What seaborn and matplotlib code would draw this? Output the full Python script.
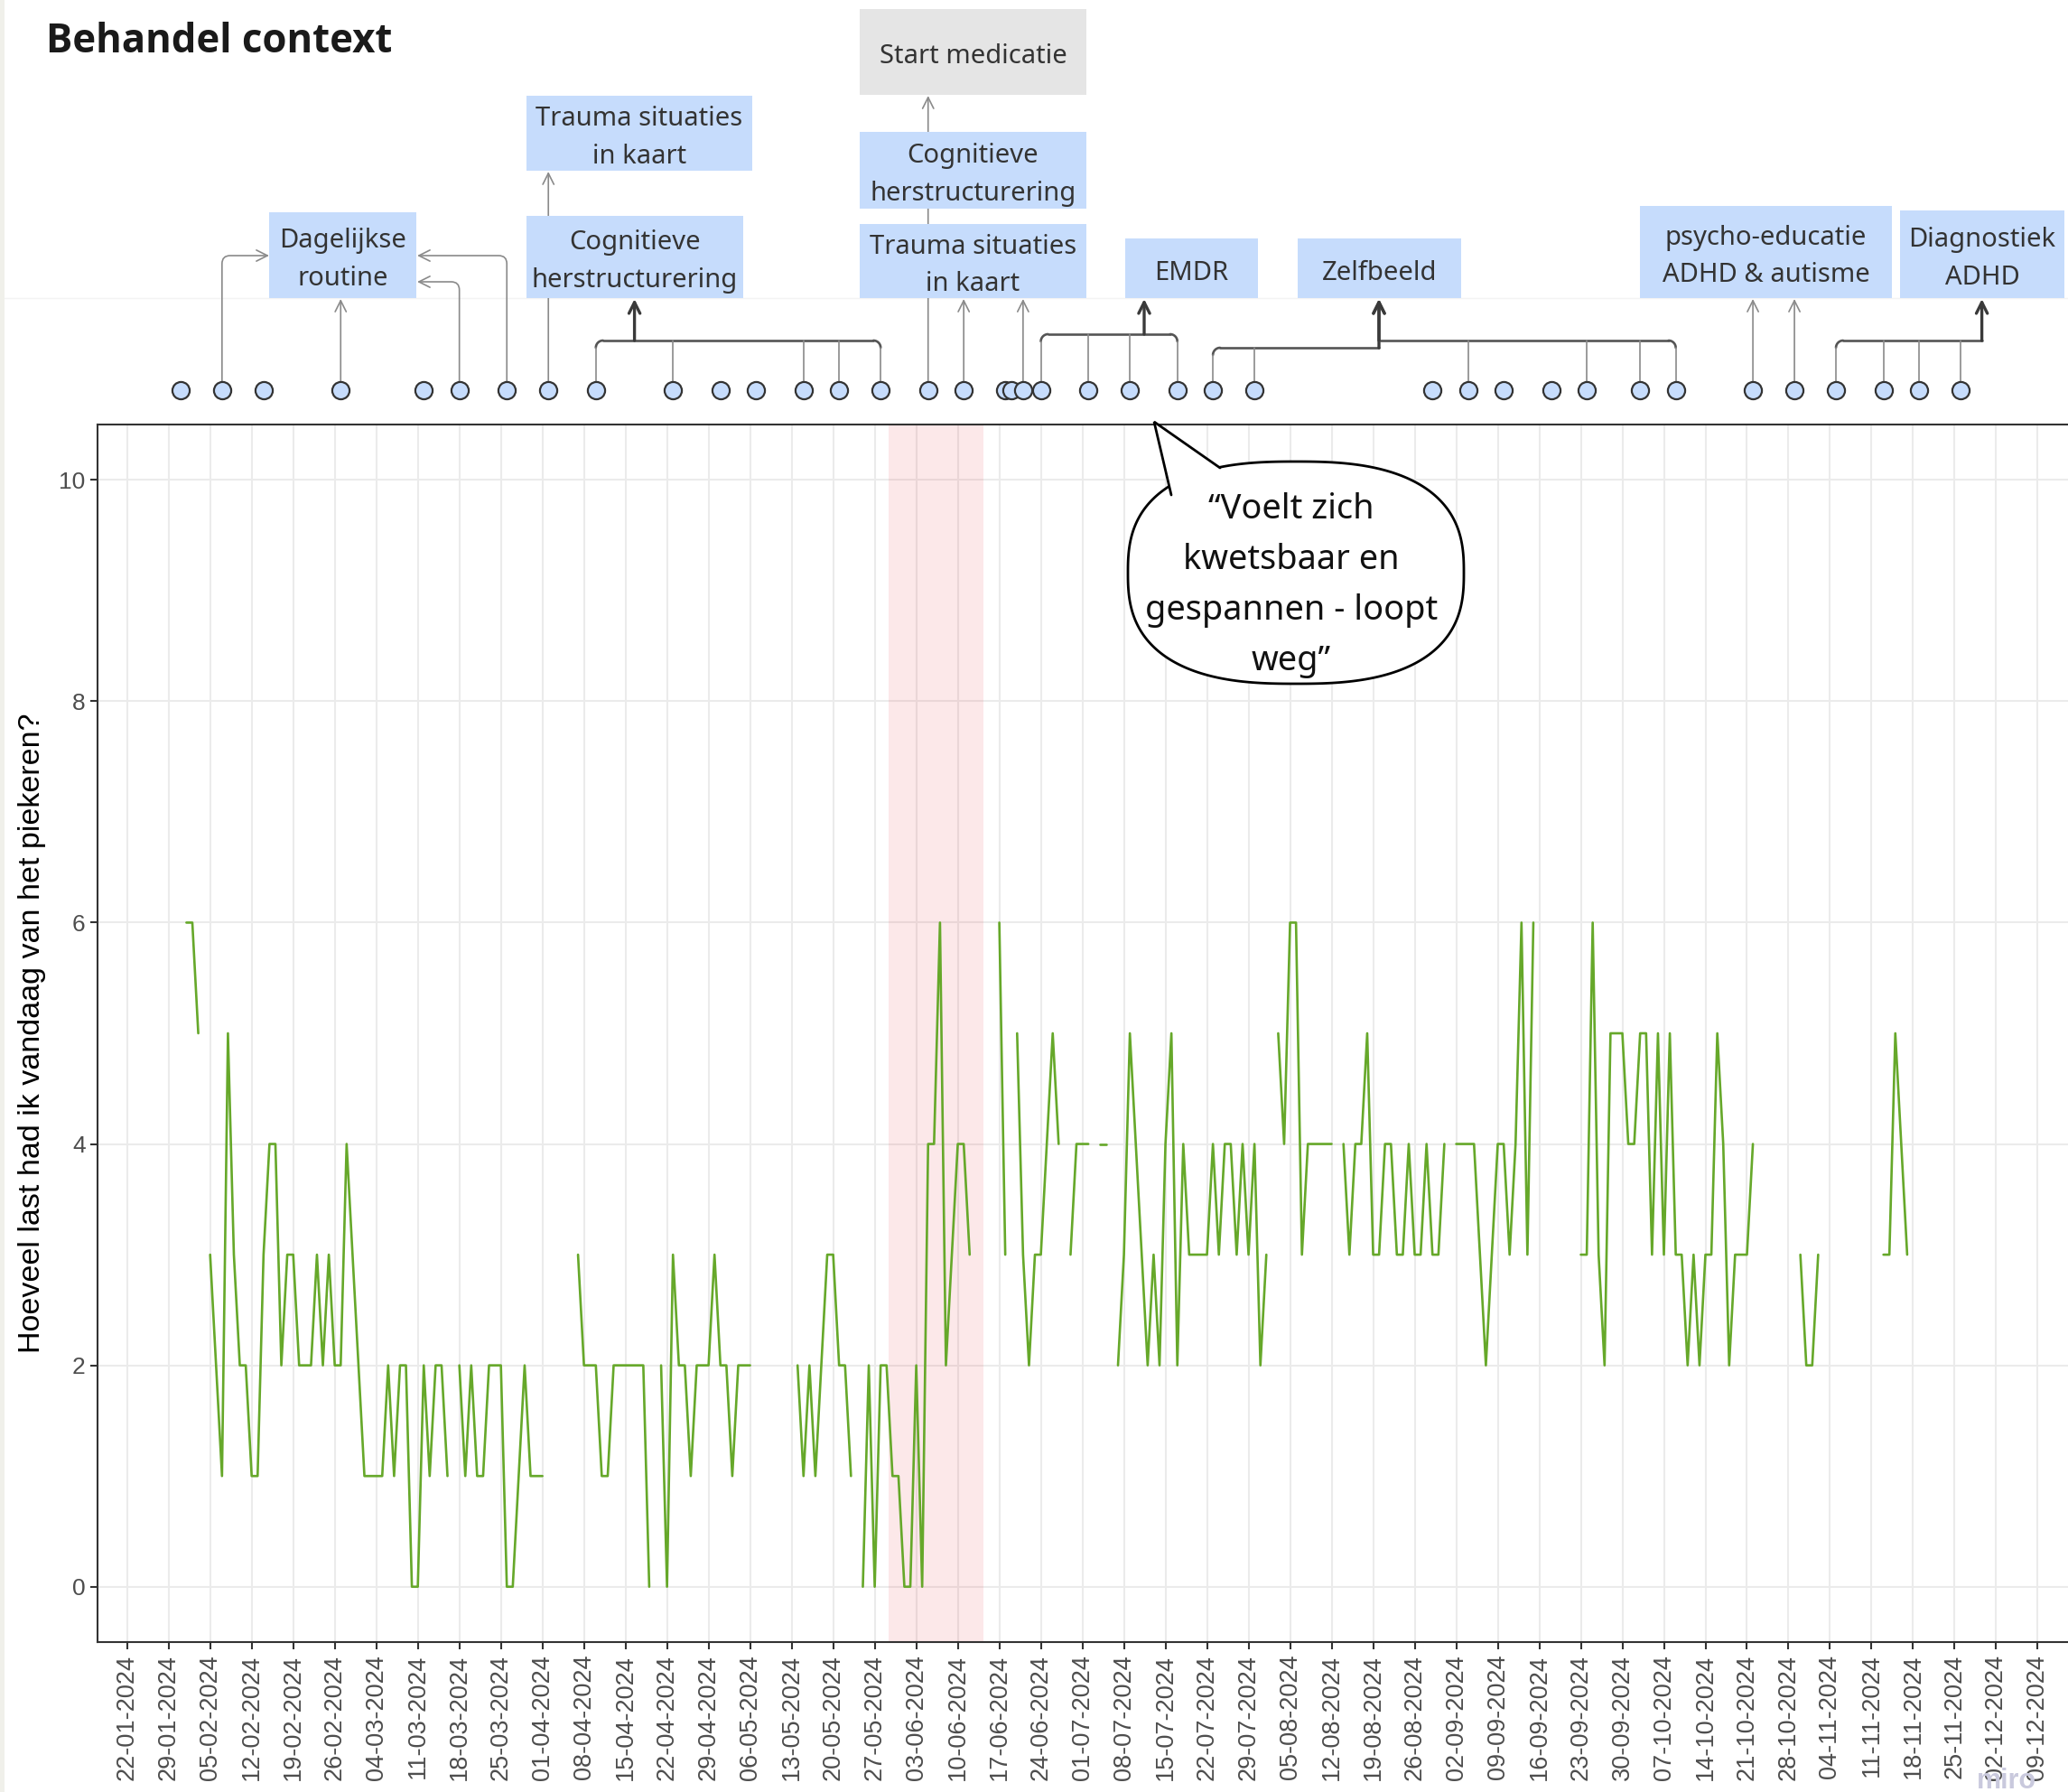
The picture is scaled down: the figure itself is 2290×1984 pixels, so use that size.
import numpy as np
import pandas as pd
import matplotlib
matplotlib.use("Agg")
import matplotlib.pyplot as plt
import matplotlib.dates as mdates
from matplotlib.patches import Rectangle, Polygon
import seaborn as sns

NA = None

# daily answers, starting on 01-02-2024 (NA = no answer that day)
first_day = "2024-02-01"
scores = [
    # februari
    6, 6, 5, NA, 3, 2, 1, 5, 3, 2, 2, 1, 1, 3, 4, 4, 2, 3, 3, 2, 2, 2, 3, 2, 3, 2, 2, 4, 3,
    # maart
    2, 1, 1, 1, 1, 2, 1, 2, 2, 0, 0, 2, 1, 2, 2, 1, NA, 2, 1, 2, 1, 1, 2, 2, 2, 0, 0, 1, 2, 1, 1,
    # april
    1, NA, NA, NA, NA, NA, 3, 2, 2, 2, 1, 1, 2, 2, 2, 2, 2, 2, 0, NA, 2, 0, 3, 2, 2, 1, 2, 2, 2, 3,
    # mei
    2, 2, 1, 2, 2, 2, NA, NA, NA, NA, NA, NA, NA, 2, 1, 2, 1, 2, 3, 3, 2, 2, 1, NA, 0, 2, 0, 2, 2, 1, 1,
    # juni
    0, 0, 2, 0, 4, 4, 6, 2, 3, 4, 4, 3, NA, NA, NA, NA, 6, 3, NA, 5, 3, 2, 3, 3, 4, 5, 4, NA, 3, 4,
    # juli
    4, 4, NA, 4, 4, NA, 2, 3, 5, 4, 3, 2, 3, 2, 4, 5, 2, 4, 3, 3, 3, 3, 4, 3, 4, 4, 3, 4, 3, 4, 2,
    # augustus
    3, NA, 5, 4, 6, 6, 3, 4, 4, 4, 4, 4, NA, 4, 3, 4, 4, 5, 3, 3, 4, 4, 3, 3, 4, 3, 3, 4, 3, 3, 4,
    # september
    NA, 4, 4, 4, 4, 3, 2, 3, 4, 4, 3, 4, 6, 3, 6, NA, NA, NA, NA, NA, NA, NA, 3, 3, 6, 3, 2, 5, 5, 5,
    # oktober
    4, 4, 5, 5, 3, 5, 3, 5, 3, 3, 2, 3, 2, 3, 3, 5, 4, 2, 3, 3, 3, 4, NA, NA, NA, NA, NA, NA, NA, 3, 2,
    # november
    2, 3, NA, NA, NA, NA, NA, NA, NA, NA, NA, NA, 3, 3, 5, 4, 3,
]

# treatment sessions (dots in the context strip)
sessions = [
    "2024-01-31", "2024-02-07", "2024-02-14", "2024-02-27", "2024-03-12", "2024-03-18",
    "2024-03-26", "2024-04-02", "2024-04-10", "2024-04-23", "2024-05-01", "2024-05-07",
    "2024-05-15", "2024-05-21", "2024-05-28", "2024-06-05", "2024-06-11", "2024-06-18",
    "2024-06-19", "2024-06-21", "2024-06-24", "2024-07-02", "2024-07-09", "2024-07-17",
    "2024-07-23", "2024-07-30", "2024-08-29", "2024-09-04", "2024-09-10", "2024-09-18",
    "2024-09-24", "2024-10-03", "2024-10-09", "2024-10-22", "2024-10-29", "2024-11-05",
    "2024-11-13", "2024-11-19", "2024-11-26",
]

span_start, span_end = "2024-05-29 10:00", "2024-06-14 07:00"
week_ticks = pd.date_range("2024-01-22", "2024-12-09", freq="7D")
y_ticks = [0, 2, 4, 6, 8, 10]

# label boxes: text, x0, y0, x1, y1 (pixels from top-left), fill
boxes = [
    ("Dagelijkse\nroutine", 298, 235, 461, 330, "#c6dcfc"),
    ("Cognitieve\nherstructurering", 583, 239, 823, 330, "#c6dcfc"),
    ("Trauma situaties\nin kaart", 583, 106, 833, 189, "#c6dcfc"),
    ("Start medicatie", 952, 10, 1203, 105, "#e5e5e5"),
    ("Cognitieve\nherstructurering", 952, 146, 1203, 231, "#c6dcfc"),
    ("Trauma situaties\nin kaart", 952, 248, 1203, 330, "#c6dcfc"),
    ("EMDR", 1246, 264, 1393, 330, "#c6dcfc"),
    ("Zelfbeeld", 1437, 264, 1618, 330, "#c6dcfc"),
    ("psycho-educatie\nADHD & autisme", 1816, 228, 2095, 330, "#c6dcfc"),
    ("Diagnostiek\nADHD", 2104, 233, 2286, 330, "#c6dcfc"),
]
quote = "\u201cVoelt zich\nkwetsbaar en\ngespannen - loopt\nweg\u201d"

# ---- data frame
df = pd.DataFrame({"datum": pd.date_range(first_day, periods=len(scores), freq="D"),
                   "score": pd.array(scores, dtype="Float64")})
df["seg"] = df["score"].isna().cumsum()
df = df.dropna().astype({"score": float})

sns.set_style("whitegrid", {"grid.color": "#ebebeb", "axes.edgecolor": "#333333"})
plt.rcParams["font.family"] = ["Liberation Sans", "DejaVu Sans"]
ROUND = ["Noto Sans", "DejaVu Sans"]

W, H = 2290, 1984
fig = plt.figure(figsize=(W / 100, H / 100), dpi=100)
fig.patch.set_facecolor("white")

ax = fig.add_axes([108.4 / W, 1 - 1818 / H, 1 - 108.4 / W, (1818 - 470) / H])
ax.set_zorder(1)
ax.axvspan(pd.Timestamp(span_start), pd.Timestamp(span_end), color=(0.9, 0.12, 0.16),
           alpha=0.1, lw=0, zorder=1)
sns.lineplot(data=df, x="datum", y="score", units="seg", estimator=None, ax=ax,
             color="#66a82a", lw=1.9, zorder=3)

ax.set_xlim(pd.Timestamp("2024-01-17 02:00"), pd.Timestamp("2024-12-14 02:30"))
ax.set_ylim(-0.5, 10.5)
ax.set_xticks(week_ticks)
ax.xaxis.set_major_formatter(mdates.DateFormatter("%d-%m-%Y"))
ax.set_yticks(y_ticks)
ax.grid(True, lw=1.5, color="#ebebeb")
ax.set_axisbelow(True)
ax.tick_params(axis="x", rotation=90, labelsize=19.5, labelcolor="#4d4d4d",
               length=6, width=1.5, color="#333333", bottom=True, pad=4)
ax.tick_params(axis="y", labelsize=19, labelcolor="#4d4d4d",
               length=6, width=1.5, color="#333333", left=True, pad=4)
for s in ["left", "bottom", "top"]:
    ax.spines[s].set_linewidth(1.5)
    ax.spines[s].set_color("#333333")
ax.spines["right"].set_visible(False)
ax.set_xlabel("")
ax.set_ylabel("Hoeveel last had ik vandaag van het piekeren?", fontsize=24.5, color="black")
ax.yaxis.set_label_coords(-0.0263, 0.5)

# ---- context strip (dots), y in pixels from the top
ax_top = fig.add_axes([108.4 / W, 1 - 470 / H, 1 - 108.4 / W, 470 / H], sharex=ax)
ax_top.set_zorder(4)
ax_top.axis("off")
sess = pd.DataFrame({"datum": pd.to_datetime(sessions), "y": 432})
sns.scatterplot(data=sess, x="datum", y="y", ax=ax_top, s=190, color="#c6dcfc",
                edgecolor="#333333", linewidth=1.6, zorder=5, clip_on=False)
ax_top.set_ylim(470, 0)
ax.set_xlim(pd.Timestamp("2024-01-17 02:00"), pd.Timestamp("2024-12-14 02:30"))

# overlay in figure pixels
ov = fig.add_axes([0, 0, 1, 1])
ov.set_zorder(3)
ov.set_xlim(0, W)
ov.set_ylim(H, 0)
ov.axis("off")


def dot_x(i):
    return ax.transData.transform((mdates.date2num(pd.Timestamp(sessions[i])), 0))[0]


thin = dict(color="#8a8a8a", lw=1.2)
mid = dict(color="#555555", lw=1.9)
thick = dict(color="#3a3a3a", lw=2.4)
DOT_Y = 432
HEAD = "->,head_length=0.4,head_width=0.2"


def arrow(x0, y0, x1, y1, style, conn="arc3"):
    ov.annotate("", xy=(x1, y1), xytext=(x0, y0),
                arrowprops=dict(arrowstyle=HEAD, mutation_scale=22, color=style["color"],
                                lw=style["lw"], shrinkA=0, shrinkB=0, connectionstyle=conn),
                zorder=2)


def elbow(i, y_turn, x_end, style=thin):
    x = dot_x(i)
    arrow(x, DOT_Y, x_end, y_turn, style, conn="angle,angleA=90,angleB=0,rad=9")


def straight(i, y_end, style=thin):
    x = dot_x(i)
    arrow(x, DOT_Y, x, y_end, style)


def bracket(idx, y_bar, x_riser, y_box=331):
    xs = [dot_x(i) for i in idx]
    lo, hi = min(xs + [x_riser]), max(xs + [x_riser])
    r = 8
    x_a = lo + r if lo in xs else lo
    x_b = hi - r if hi in xs else hi
    ov.plot([x_a, x_b], [y_bar, y_bar], zorder=2, **mid)
    for x in xs:
        if x == lo or x == hi:
            sgn = 1 if x == lo else -1
            t = np.linspace(0, np.pi / 2, 12)
            ov.plot(x + sgn * r * (1 - np.cos(t)), y_bar + r * (1 - np.sin(t)),
                    zorder=2, **mid)
            ov.plot([x, x], [DOT_Y, y_bar + r], zorder=2, **thin)
        else:
            ov.plot([x, x], [DOT_Y, y_bar], zorder=2, **thin)
    arrow(x_riser, y_bar, x_riser, y_box, thick)


# connectors
elbow(1, 283, 298)
straight(3, 331)
elbow(5, 312, 462)
elbow(6, 283, 462)
straight(7, 190)
bracket([8, 9, 12, 13, 14], 377, 702.6)
straight(15, 106)
straight(16, 331)
straight(19, 331)
bracket([20, 21, 22, 23], 370, 1267)
bracket([24, 25], 385, 1527)
bracket([27, 30, 31, 32], 377, 1527)
straight(33, 331)
straight(34, 331)
bracket([35, 36, 37, 38], 377, 2194.6)

# boxes on top of the connectors
for text, x0, y0, x1, y1, fc in boxes:
    ov.add_patch(Rectangle((x0, y0), x1 - x0, y1 - y0, facecolor=fc, edgecolor="none", zorder=4))
    ov.text((x0 + x1) / 2, (y0 + y1) / 2 + 5, text, ha="center", va="center", fontsize=21,
            family=ROUND, color="#333333", linespacing=1.56, zorder=5)

ov.plot([0, W], [330, 330], color="#f3f3f3", lw=1, zorder=0)
ov.add_patch(Rectangle((0, 0), 5, H, facecolor="#f0f0ea", edgecolor="none", zorder=0))

# speech bubble
cx, cy, a, b, n = 1435, 634, 186, 123, 2.6
t = np.linspace(0, 2 * np.pi, 400)
bx = cx + a * np.sign(np.cos(t)) * np.abs(np.cos(t)) ** (2 / n)
by = cy + b * np.sign(np.sin(t)) * np.abs(np.sin(t)) ** (2 / n)
ov.add_patch(Polygon(np.column_stack([bx, by]), closed=True, facecolor="white",
                     edgecolor="black", lw=2, zorder=6))
tip = (1278, 467)
base_l, base_r = (1297, 548), (1351, 518)
ov.add_patch(Polygon([(1300, 556), base_l, tip, base_r, (1356, 527)], closed=True,
                     facecolor="white", edgecolor="none", zorder=7))
ov.plot([base_l[0], tip[0], base_r[0]], [base_l[1], tip[1], base_r[1]],
        color="black", lw=2, zorder=8, solid_joinstyle="miter")
ov.text(1430, 648, quote, ha="center", va="center", fontsize=27.3, linespacing=1.62,
        family=ROUND, color="#111111", zorder=9)

# title and watermark
fig.text(51 / W, 1 - 58 / H, "Behandel context", fontsize=31.5, weight="bold",
         family=["Open Sans", "DejaVu Sans"], color="#1a1a1a", va="baseline")
fig.text(2222 / W, 1 - 1972 / H, "miro", fontsize=22, color="#c9c9dd", ha="center",
         va="center", weight="bold")

fig.savefig("out.png", dpi=100)
